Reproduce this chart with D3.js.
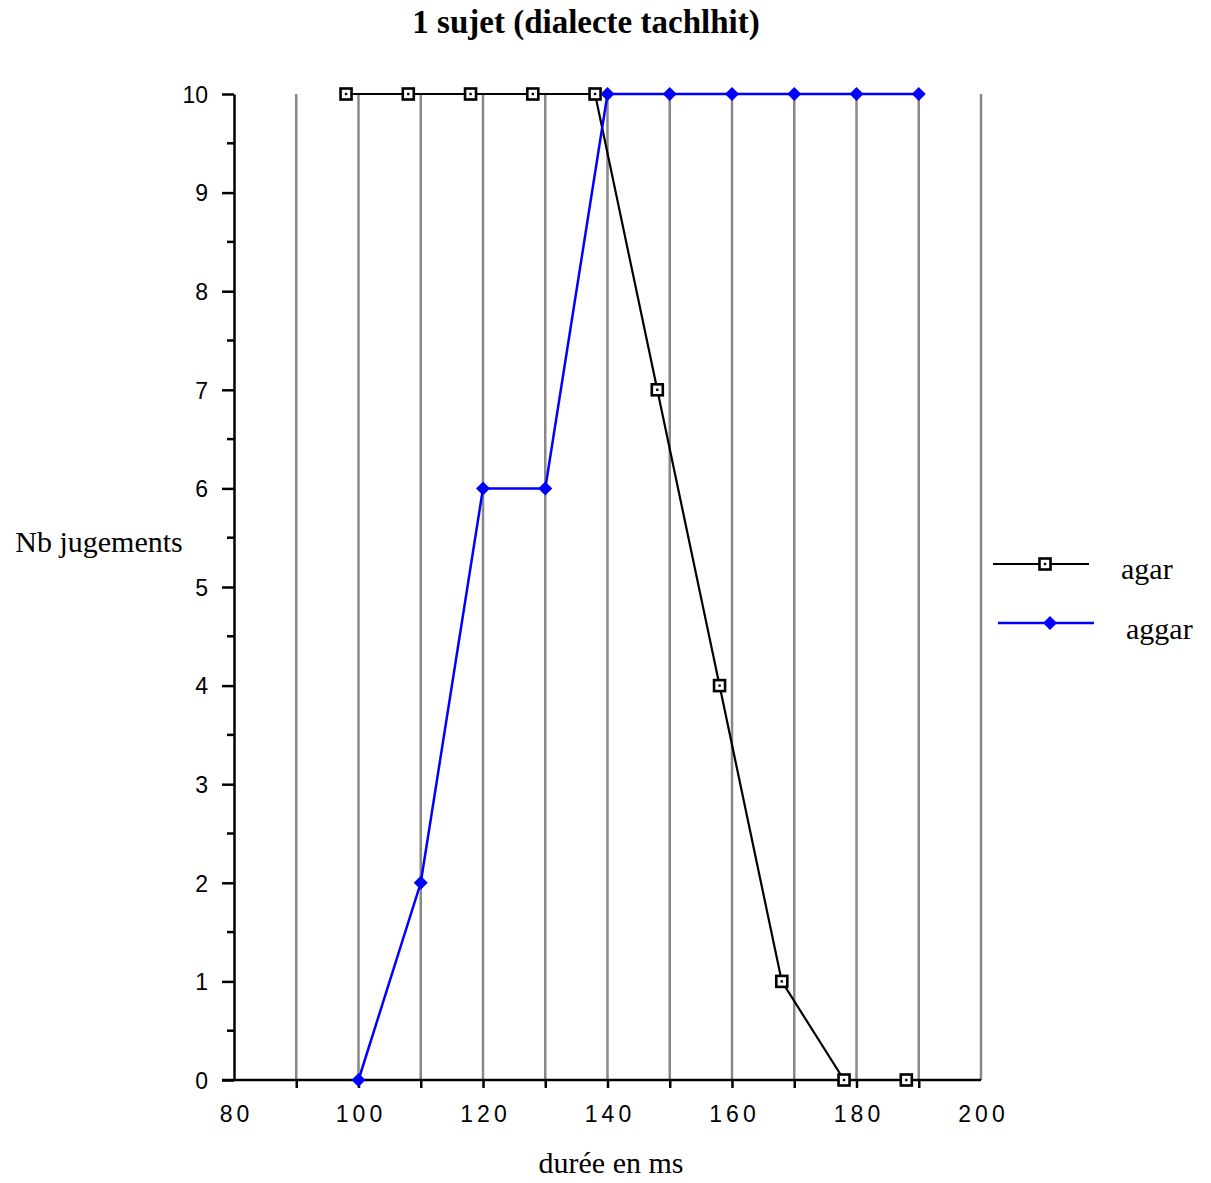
<!DOCTYPE html>
<html>
<head>
<meta charset="utf-8">
<script src="https://cdn.jsdelivr.net/npm/d3@7"></script>
<style>
  body { margin: 0; background: #fff; }
</style>
</head>
<body>
<div id="chart"></div>
<script>
// durées (ms) et nombre de jugements
var agarX = [98, 108, 118, 128, 138, 148, 158, 168, 178, 188];
var agarY = [10, 10, 10, 10, 10, 7, 4, 1, 0, 0];
var aggarX = [100, 110, 120, 130, 140, 150, 160, 170, 180, 190];
var aggarY = [0, 2, 6, 6, 10, 10, 10, 10, 10, 10];
var xTicks = [80, 100, 120, 140, 160, 180, 200];
var gridX = [90, 100, 110, 120, 130, 140, 150, 160, 170, 180, 190, 200];
var yTicks = [0, 1, 2, 3, 4, 5, 6, 7, 8, 9, 10];
var seriesNames = ["agar", "aggar"];

var width = 1211, height = 1183;
var margin = { top: 94, right: 230, bottom: 103, left: 234 };
var serif = "'Liberation Serif', 'Times New Roman', serif";
var sans = "'Liberation Sans', Arial, sans-serif";

var svg = d3.select("#chart").append("svg")
    .attr("width", width)
    .attr("height", height);

var x = d3.scaleLinear().domain([80, 200]).range([margin.left, width - margin.right]);
var y = d3.scaleLinear().domain([0, 10]).range([height - margin.bottom, margin.top]);

// titre
svg.append("text")
    .attr("x", 586).attr("y", 33)
    .attr("text-anchor", "middle")
    .style("font-family", serif)
    .style("font-weight", "bold")
    .style("font-size", "33px")
    .text("1 sujet (dialecte tachlhit)");

// grille verticale
svg.append("g").selectAll("line")
    .data(gridX)
    .enter().append("line")
    .attr("x1", function (d) { return x(d); })
    .attr("x2", function (d) { return x(d); })
    .attr("y1", y(10))
    .attr("y2", y(0))
    .attr("stroke", "#888")
    .attr("stroke-width", 2.5);

// axe X
var xAxis = svg.append("g")
    .attr("transform", "translate(0," + y(0) + ")")
    .call(d3.axisBottom(x).tickValues(gridX.concat([80])).tickSize(8).tickFormat(function (d) {
        return xTicks.indexOf(d) >= 0 ? d : "";
    }).tickSizeOuter(0));
xAxis.select(".domain").attr("stroke-width", 2.5).attr("d", "M" + (margin.left - 12) + ",0H" + x(200));
xAxis.selectAll(".tick line").attr("stroke-width", 2.5)
    .attr("y2", function (d) { return d === 80 || d === 200 ? 0 : 8; });
xAxis.selectAll("text")
    .attr("dy", "0")
    .attr("dx", "2")
    .attr("y", 42)
    .style("font-family", sans)
    .style("font-size", "23px")
    .style("letter-spacing", "4px")
    .attr("fill", "#000");

// axe Y
var yAxis = svg.append("g")
    .attr("transform", "translate(" + margin.left + ",0)")
    .call(d3.axisLeft(y).tickValues(yTicks).tickSize(12).tickSizeOuter(0));
yAxis.select(".domain").attr("stroke-width", 2.5);
yAxis.selectAll(".tick line").attr("stroke-width", 2.5);
yAxis.selectAll("text")
    .attr("x", -26)
    .attr("dy", "0.36em")
    .style("font-family", sans)
    .style("font-size", "23px")
    .attr("fill", "#000");
// petits traits intermédiaires
svg.append("g").selectAll("line")
    .data(d3.range(0.5, 10, 1))
    .enter().append("line")
    .attr("x1", margin.left - 7).attr("x2", margin.left)
    .attr("y1", function (d) { return y(d); })
    .attr("y2", function (d) { return y(d); })
    .attr("stroke", "#000").attr("stroke-width", 2.5);

// titres des axes
svg.append("text")
    .attr("x", 611).attr("y", 1173)
    .attr("text-anchor", "middle")
    .style("font-family", serif)
    .style("font-size", "30px")
    .text("durée en ms");
svg.append("text")
    .attr("x", 99).attr("y", 552)
    .attr("text-anchor", "middle")
    .style("font-family", serif)
    .style("font-size", "30px")
    .text("Nb jugements");

var line = d3.line()
    .x(function (d) { return x(d[0]); })
    .y(function (d) { return y(d[1]); });

var agar = agarX.map(function (d, i) { return [d, agarY[i]]; });
var aggar = aggarX.map(function (d, i) { return [d, aggarY[i]]; });

// agar
svg.append("path").datum(agar)
    .attr("fill", "none").attr("stroke", "#000").attr("stroke-width", 2.2)
    .attr("d", line);

// aggar
svg.append("path").datum(aggar)
    .attr("fill", "none").attr("stroke", "#0000ff").attr("stroke-width", 2.5)
    .attr("d", line);

function square(g, cx, cy) {
    g.append("rect")
        .attr("x", cx - 5.5).attr("y", cy - 5.5)
        .attr("width", 11).attr("height", 11)
        .attr("fill", "#fff").attr("stroke", "#000").attr("stroke-width", 2.6);
    g.append("rect")
        .attr("x", cx - 1.2).attr("y", cy - 1.2)
        .attr("width", 2.4).attr("height", 2.4)
        .attr("fill", "#000");
}
function diamond(g, cx, cy) {
    g.append("path")
        .attr("d", "M" + cx + "," + (cy - 7) + "L" + (cx + 7) + "," + cy + "L" + cx + "," + (cy + 7) + "L" + (cx - 7) + "," + cy + "Z")
        .attr("fill", "#0000ff");
}

var mk1 = svg.append("g");
agar.forEach(function (d) { square(mk1, x(d[0]), y(d[1])); });
var mk2 = svg.append("g");
aggar.forEach(function (d) { diamond(mk2, x(d[0]), y(d[1])); });

// légende
var lg = svg.append("g");
lg.append("line").attr("x1", 993).attr("x2", 1089).attr("y1", 564).attr("y2", 564)
    .attr("stroke", "#000").attr("stroke-width", 2.2);
square(lg, 1045, 564);
lg.append("text").attr("x", 1121).attr("y", 579)
    .style("font-family", serif)
    .style("font-size", "30px")
    .text(seriesNames[0]);
lg.append("line").attr("x1", 998).attr("x2", 1094).attr("y1", 623).attr("y2", 623)
    .attr("stroke", "#0000ff").attr("stroke-width", 2.5);
diamond(lg, 1050, 623);
lg.append("text").attr("x", 1126).attr("y", 639)
    .style("font-family", serif)
    .style("font-size", "30px")
    .text(seriesNames[1]);
</script>
</body>
</html>
